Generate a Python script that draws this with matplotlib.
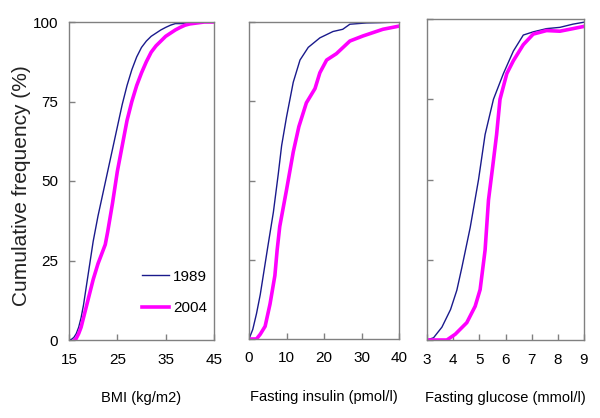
import numpy as np
import matplotlib
matplotlib.use("Agg")
import matplotlib.pyplot as plt

plt.rcParams['font.family'] = ['Liberation Sans', 'DejaVu Sans']

# BMI panel (kg/m2)
bmi_1989_x = [15, 15.5, 16, 16.5, 17, 17.5, 18, 18.5, 19, 19.5, 20, 21, 22, 23, 24, 25, 26, 27,
              28, 29, 30, 31, 32, 33, 34, 35, 36, 37, 38, 39, 40, 42, 45]
bmi_1989_y = [0, 0.2, 0.8, 2, 4, 7, 11, 16, 21, 26, 31, 39, 46, 53, 60, 67, 74, 80,
              85, 89, 92, 94, 95.5, 96.5, 97.5, 98.3, 99, 99.5, 99.5, 99.5, 99.7, 100, 100]
bmi_2004_x = [16.2, 16.5, 17, 17.5, 18, 18.5, 19, 20, 21, 21.5, 22, 22.5, 23, 24, 25, 26, 27,
              28, 29, 30, 31, 32, 33, 34, 35, 36, 37, 38, 39, 40, 42, 43, 45]
bmi_2004_y = [0, 0.5, 2, 4, 7, 10, 13, 19, 24, 26, 28, 30, 34, 43, 53, 61, 69,
              75, 80, 84, 87.5, 90.5, 92.5, 94, 95.5, 96.5, 97.5, 98.3, 99, 99.4, 99.8, 100, 100]

# Fasting insulin panel (pmol/l)
ins_1989_x = [0, 1, 2, 3, 3.8, 5, 6.5, 7.8, 8.7, 10, 11.8, 13.6, 15.8, 18.9, 22.4, 25, 26.9,
              31.3, 35, 40]
ins_1989_y = [0, 3, 8, 14, 20, 29, 40, 52, 61, 70, 81, 88, 92, 95, 97, 97.7, 99.3,
              99.7, 99.8, 100]
ins_2004_x = [0, 2, 3, 4.3, 5.6, 6.9, 7.5, 8.2, 10, 11.8, 13.3, 15.3, 17.6, 18.9, 20.7, 23.3,
              26.9, 30.4, 35.7, 40]
ins_2004_y = [0, 0, 1.5, 4, 11, 20, 28, 35.5, 47, 59, 67, 74.5, 79, 84, 88, 90,
              94, 95.6, 97.7, 98.7]

# Fasting glucose panel (mmol/l)
glu_1989_x = [3, 3.25, 3.57, 3.9, 4.14, 4.33, 4.65, 4.97, 5.22, 5.54, 5.92, 6.3, 6.68, 7.06,
              7.57, 8.08, 8.58, 9]
glu_1989_y = [0, 0.7, 4, 9.5, 15.5, 22.5, 35, 50, 64, 75, 83, 90, 95, 96,
              97, 97.4, 98.4, 99]
glu_2004_x = [3, 3.76, 4.08, 4.52, 4.84, 5.03, 5.22, 5.35, 5.51, 5.66, 5.79, 6.05, 6.3, 6.68,
              7.06, 7.57, 8.08, 8.58, 9]
glu_2004_y = [0, 0, 1.8, 5.4, 10.5, 15.7, 28, 43.6, 54, 64, 75, 83, 87, 92,
              95.3, 96.4, 96.2, 97, 97.7]

years = ['1989', '2004']
y_ticks = [0, 25, 50, 75, 100]

panels = [
    (bmi_1989_x, bmi_1989_y, bmi_2004_x, bmi_2004_y, (15, 45), [15, 25, 35, 45], 'BMI (kg/m2)'),
    (ins_1989_x, ins_1989_y, ins_2004_x, ins_2004_y, (0, 40), [0, 10, 20, 30, 40],
     'Fasting insulin (pmol/l)'),
    (glu_1989_x, glu_1989_y, glu_2004_x, glu_2004_y, (3, 9), [3, 4, 5, 6, 7, 8, 9],
     'Fasting glucose (mmol/l)'),
]

W, H = 600, 418
# axes boxes in pixels: left, right, top, bottom
boxes = [(69, 214, 22, 340), (249, 399, 22, 339), (427, 584, 19, 340)]

fig = plt.figure(figsize=(6, 4.18), dpi=100)
fig.patch.set_facecolor('white')

for i, (bx, by, px, py, xlim, xticks, xlabel) in enumerate(panels):
    l, r, t, b = boxes[i]
    ax = fig.add_axes([l / W, (H - b) / H, (r - l) / W, (b - t) / H])
    ax.plot(bx, by, color='#1a1a8c', lw=1.0, label=years[0])
    ax.plot(px, py, color='#ff00ff', lw=2.6, label=years[1])
    ax.set_xlim(*xlim)
    ax.set_ylim(0, 100)
    ax.set_xticks(xticks)
    ax.set_yticks(y_ticks)
    for s in ax.spines.values():
        s.set_color('#808080')
        s.set_linewidth(1.0)
    ax.tick_params(direction='in', length=4, width=1, color='#808080',
                   labelsize=11, pad=8)
    ax.tick_params(axis='x', pad=9)
    ax.set_xlabel(xlabel, fontsize=10.5)
    ax.xaxis.set_label_coords(0.5, -0.16)
    if i == 0:
        ax.set_ylabel('Cumulative frequency (%)', fontsize=15, color='#222222')
        ax.yaxis.set_label_coords(-0.26, 0.485)
        ax.legend(loc='center left', bbox_to_anchor=(0.503, 0.149), frameon=False,
                  fontsize=11, borderpad=0, borderaxespad=0, handlelength=1.8,
                  handletextpad=0.25, labelspacing=1.15)
    else:
        ax.set_yticklabels([])

fig.savefig('out.png', dpi=100)
